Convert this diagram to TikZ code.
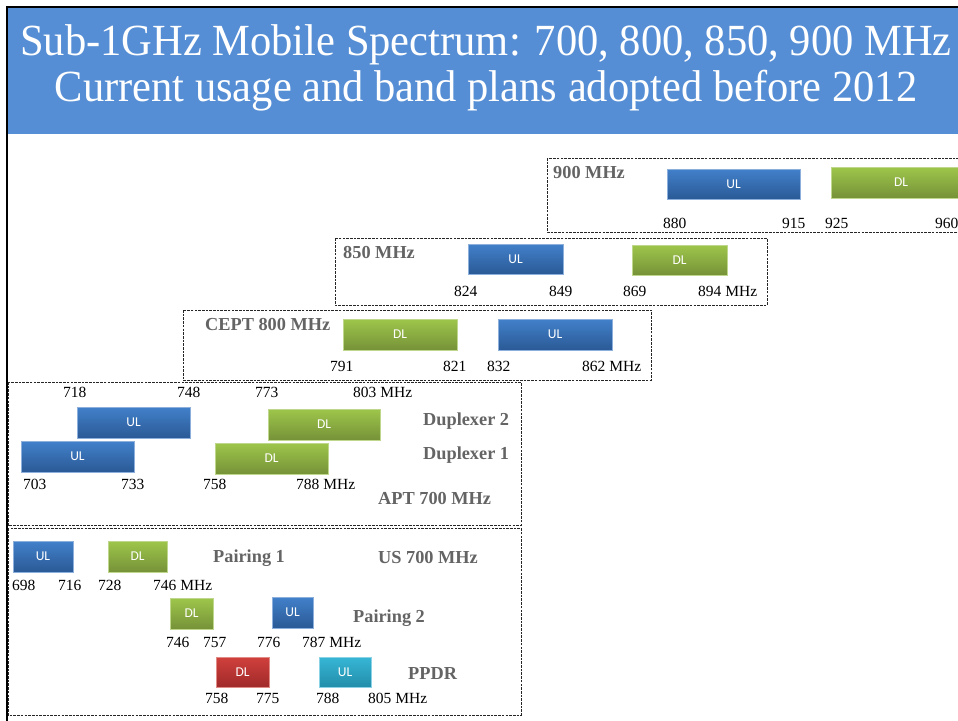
\documentclass[tikz,border=0pt]{standalone}
\usepackage{fontspec}
\setmainfont{Liberation Serif}
\newfontfamily\bandfam{Carlito}
\definecolor{titleblue}{RGB}{85,142,213}
\definecolor{ulTop}{RGB}{66,128,202}
\definecolor{ulBot}{RGB}{42,90,150}
\definecolor{ulEdge}{RGB}{140,175,220}
\definecolor{dlTop}{RGB}{158,198,75}
\definecolor{dlBot}{RGB}{118,146,56}
\definecolor{dlEdge}{RGB}{190,215,140}
\definecolor{rdTop}{RGB}{208,64,60}
\definecolor{rdBot}{RGB}{160,42,42}
\definecolor{rdEdge}{RGB}{225,140,135}
\definecolor{cyTop}{RGB}{55,182,214}
\definecolor{cyBot}{RGB}{34,142,170}
\definecolor{cyEdge}{RGB}{140,210,230}
\definecolor{labgray}{RGB}{100,100,100}
\tikzset{
  band/.style={rectangle, inner sep=0pt, minimum height=31pt, text=white, line width=0.8pt,
    font=\bandfam\fontsize{13.5}{15}\selectfont},
  ulband/.style={band, top color=ulTop, bottom color=ulBot, draw=ulEdge},
  dlband/.style={band, top color=dlTop, bottom color=dlBot, draw=dlEdge},
  rdband/.style={band, top color=rdTop, bottom color=rdBot, draw=rdEdge},
  cyband/.style={band, top color=cyTop, bottom color=cyBot, draw=cyEdge},
  freq/.style={anchor=base west, inner sep=0pt, font=\fontsize{15.5}{18}\selectfont},
  grp/.style={anchor=base west, inner sep=0pt, text=labgray, font=\bfseries\fontsize{18.3}{21}\selectfont},
  dbox/.style={draw=black!85, line width=0.9pt, dash pattern=on 2.6pt off 1.1pt},
  ttl/.style={anchor=base, inner sep=0pt, text=white, font=\fontsize{44.5}{48}\selectfont}
}
\begin{document}
\begin{tikzpicture}[x=1pt,y=-1pt]
\clip (0,0) rectangle (958,720);
\fill[white] (0,0) rectangle (958,720);
% title
\fill[titleblue] (8,8) rectangle (965,134);
\draw[line width=2.5pt] (7,735) -- (7,7) -- (970,7);
\node[ttl] (t1) at (486,55) {\scalebox{0.955}[1]{Sub-1GHz Mobile Spectrum: 700, 800, 850, 900 MHz}};
\node[ttl] (t2) at (486,101) {\scalebox{0.955}[1]{Current usage and band plans adopted before 2012}};

% 900 MHz
\draw[dbox] (547,158) rectangle (975,232);
\node[grp] (g900) at (553,178) {900 MHz};
\node[ulband, minimum width=133pt, minimum height=30pt] (u900) at (733.5,184) {UL};
\node[dlband, minimum width=140pt] (d900) at (901,182.5) {DL};
\node[freq] (f880) at (663,228) {880};
\node[freq] (f915) at (782,228) {915};
\node[freq] (f925) at (825,228) {925};
\node[freq] (f960) at (935,228) {960};

% 850 MHz
\draw[dbox] (335,238) rectangle (767,305);
\node[grp] (g850) at (343,258) {850 MHz};
\node[ulband, minimum width=95pt, minimum height=30pt] (u850) at (515.5,259) {UL};
\node[dlband, minimum width=95pt, minimum height=30pt] (d850) at (679.5,260) {DL};
\node[freq] (f824) at (454,296) {824};
\node[freq] (f849) at (549,296) {849};
\node[freq] (f869) at (623,296) {869};
\node[freq] (f894) at (698,296) {894 MHz};

% CEPT 800
\draw[dbox] (183,310) rectangle (651,380);
\node[grp] (g800) at (205,330) {CEPT 800 MHz};
\node[dlband, minimum width=114pt] (d800) at (400,334.5) {DL};
\node[ulband, minimum width=114pt] (u800) at (555,334.5) {UL};
\node[freq] (f791) at (330,371) {791};
\node[freq] (f821) at (443,371) {821};
\node[freq] (f832) at (487,371) {832};
\node[freq] (f862) at (582,371) {862 MHz};

% APT 700
\draw[dbox] (8,382) rectangle (521,525);
\node[freq] (f718) at (63,397) {718};
\node[freq] (f748) at (177,397) {748};
\node[freq] (f773) at (255,397) {773};
\node[freq] (f803) at (353,397) {803 MHz};
\node[ulband, minimum width=113pt] (ua2) at (133.5,422.5) {UL};
\node[dlband, minimum width=112pt] (da2) at (324,424.5) {DL};
\node[ulband, minimum width=113pt] (ua1) at (77.5,456.5) {UL};
\node[dlband, minimum width=113pt] (da1) at (271.5,458.5) {DL};
\node[grp] (gdup2) at (423,425) {Duplexer 2};
\node[grp] (gdup1) at (423,459) {Duplexer 1};
\node[freq] (f703) at (23,489) {703};
\node[freq] (f733) at (121,489) {733};
\node[freq] (f758a) at (203,489) {758};
\node[freq] (f788a) at (296,489) {788 MHz};
\node[grp] (gapt) at (378,504) {APT 700 MHz};

% US 700
\draw[dbox] (8,528) rectangle (521,715);
\node[ulband, minimum width=60pt] (up1) at (43,556.5) {UL};
\node[dlband, minimum width=59pt] (dp1) at (137.5,556.5) {DL};
\node[grp] (gp1) at (213,562) {Pairing 1};
\node[grp] (gus) at (378,563) {US 700 MHz};
\node[freq] (f698) at (12,590) {698};
\node[freq] (f716) at (58,590) {716};
\node[freq] (f728) at (98,590) {728};
\node[freq] (f746a) at (153,590) {746 MHz};
\node[dlband, minimum width=43pt] (dp2) at (191.5,613.5) {DL};
\node[ulband, minimum width=41pt] (up2) at (292.5,612.5) {UL};
\node[grp] (gp2) at (353,622) {Pairing 2};
\node[freq] (f746b) at (166,647) {746};
\node[freq] (f757) at (203,647) {757};
\node[freq] (f776) at (257,647) {776};
\node[freq] (f787) at (302,647) {787 MHz};
\node[rdband, minimum width=53pt, minimum height=30pt] (dpp) at (242.5,672) {DL};
\node[cyband, minimum width=52pt, minimum height=30pt] (upp) at (345,672) {UL};
\node[grp] (gppdr) at (408,679) {PPDR};
\node[freq] (f758b) at (205,703) {758};
\node[freq] (f775) at (256,703) {775};
\node[freq] (f788b) at (316,703) {788};
\node[freq] (f805) at (368,703) {805 MHz};
\end{tikzpicture}
\end{document}
